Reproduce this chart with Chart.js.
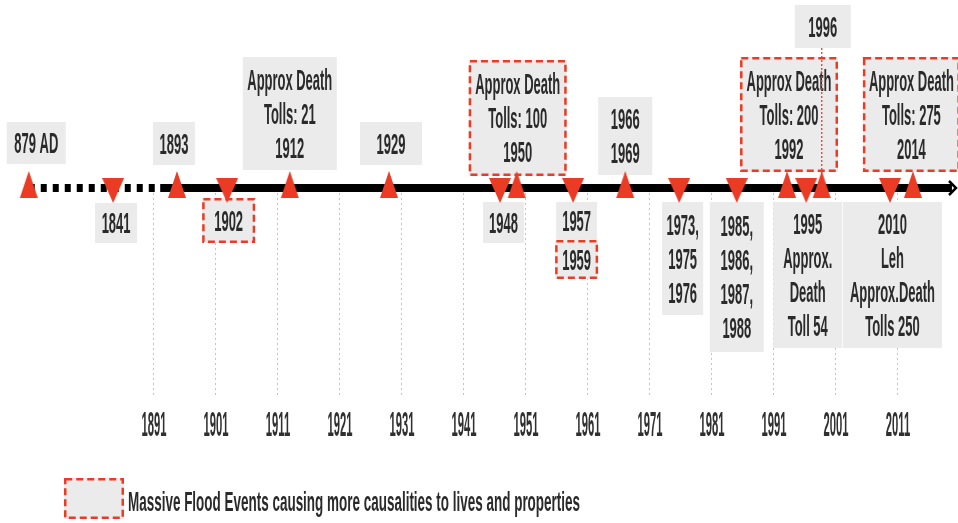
<!DOCTYPE html>
<html><head><meta charset="utf-8">
<script src="https://cdn.jsdelivr.net/npm/chart.js@4/dist/chart.umd.min.js"></script>
<style>html,body{margin:0;padding:0;background:#fff;}canvas{display:block;}</style>
</head><body>
<canvas id="c" width="958" height="523"></canvas>
<script>
// ---------- data ----------
const tickYears = [1891,1901,1911,1921,1931,1941,1951,1961,1971,1981,1991,2001,2011];
// marker positions read on the drawn time axis (the part left of 1891 is not to scale)
const markerPos  = [1870.8,1884.4,1894.7,1902.8,1912.9,1928.9,1946.8,1949.5,1958.6,1967.0,1975.7,1985.0,1993.1,1996.2,1998.7,2009.7,2013.4];
const markerSide = ['up','down','up','down','up','up','down','up','down','up','down','down','up','down','up','down','up'];
const labelLines = [
  ['879 AD'], ['1841'], ['1893'], ['1902'],
  ['Approx Death','Tolls: 21','1912'], ['1929'], ['1948'],
  ['Approx Death','Tolls: 100','1950'], ['1957'], ['1966','1969'],
  ['1973,','1975','1976'], ['1985,','1986,','1987,','1988'],
  ['Approx Death','Tolls: 200','1992'], ['1995','Approx.','Death','Toll 54'], ['1996'],
  ['2010','Leh','Approx.Death','Tolls 250'], ['Approx Death','Tolls: 275','2014']
];
const massiveFlood = [false,false,false,true,false,false,false,true,false,false,false,false,true,false,false,false,true];
const extraMarker  = [8];          // 1959 shares the 1957 marker
const extraLines   = [['1959']];
const extraMassive = [true];
const axisLine = [1870.8, 1892.0, 2019.7];   // start, end of dotted stretch, arrow end
const legendText = 'Massive Flood Events causing more causalities to lives and properties';

// ---------- layout / style (pixels) ----------
const boxLayout = [ // [dx from marker, width, top, bottom]
  [-22,59,122,164],[-18,42,203,243],[-24,42,122,165],[-25,53,198,243],[-47,94,57,170],
  [-29,62,122,165],[-17,41,202,243],[-48,98,60,176],[-17,41,202,240],[-27,54,97,175],
  [-17,41,202,315],[-27,54,202,352],[-47,98,57,172],[-33,69,202,348],[-27,56,5,48],
  [-47,99,202,348],[-50,97,57,172]
];
const extraLayout = [[-18,43,240,279]];
const connectorIdx = 14;
const RED = '#ec3b24', GRAY = '#ebebeb', TXT = '#2a2a2a';
const FAMILY = '"Liberation Sans Narrow","Liberation Sans",Arial,sans-serif';
const X_MIN = 1891 - 154/6.2, X_MAX = X_MIN + 958/6.2;

function makeTri(up){
  const c = document.createElement('canvas');
  const g = c.getContext('2d');
  if (up){ c.width=20; c.height=34; g.beginPath(); g.moveTo(10,0); g.lineTo(19,27); g.lineTo(1,27); }
  else { c.width=22; c.height=30; g.beginPath(); g.moveTo(0,5); g.lineTo(22,5); g.lineTo(11,30); }
  g.closePath(); g.fillStyle = RED; g.fill();
  return c;
}
function makeArrow(){
  const c = document.createElement('canvas'); c.width=12; c.height=20;
  const g = c.getContext('2d');
  g.strokeStyle='#000'; g.lineWidth=2.5; g.beginPath(); g.moveTo(3,3); g.lineTo(10,10); g.lineTo(3,17); g.stroke();
  return c;
}
const upTri = makeTri(true), downTri = makeTri(false), arrowImg = makeArrow();

function ctext(ctx, t, x, y, sx){ ctx.save(); ctx.translate(x,y); ctx.scale(sx,1); ctx.fillText(t,0,0); ctx.restore(); }
function drawBox(ctx, x, y, w, h, lines, massive, sx){
  ctx.save();
  ctx.fillStyle = GRAY; ctx.fillRect(x,y,w,h);
  if (massive){ ctx.strokeStyle=RED; ctx.lineWidth=2.5; ctx.setLineDash([7,4]); ctx.strokeRect(x+1.25,y+1.25,w-2.5,h-2.5); ctx.setLineDash([]); }
  ctx.fillStyle = TXT; ctx.textAlign='center'; ctx.textBaseline='middle';
  ctx.font = 'bold 30px ' + FAMILY;
  const lh = 34, n = lines.length, cy = y + h/2 + 2;
  lines.forEach((t,i)=> ctext(ctx, t, x + w/2, cy + (i-(n-1)/2)*lh, sx));
  ctx.restore();
}

const timelinePlugin = {
  id: 'timeline',
  beforeDatasetsDraw(chart){
    const ctx = chart.ctx, xs = chart.scales.x;
    ctx.save();
    ctx.font = 'bold 30px ' + FAMILY;
    const sx = 85 / ctx.measureText('Approx Death').width;
    labelLines.forEach((lines,i)=>{
      const px = xs.getPixelForValue(markerPos[i]); const L = boxLayout[i];
      drawBox(ctx, px+L[0], L[2], L[1], L[3]-L[2], lines, massiveFlood[i], sx);
    });
    extraLines.forEach((lines,k)=>{
      const px = xs.getPixelForValue(markerPos[extraMarker[k]]); const L = extraLayout[k];
      drawBox(ctx, px+L[0], L[2], L[1], L[3]-L[2], lines, extraMassive[k], sx);
    });
    // leader line for 1996
    const cx = xs.getPixelForValue(markerPos[connectorIdx]);
    ctx.strokeStyle = RED; ctx.lineWidth = 1.3; ctx.setLineDash([2,2]);
    ctx.beginPath(); ctx.moveTo(cx, boxLayout[connectorIdx][3]); ctx.lineTo(cx, chart.chartArea.top - 6); ctx.stroke();
    ctx.restore();
  },
  afterDraw(chart){
    const ctx = chart.ctx, xs = chart.scales.x;
    ctx.save();
    // tick labels
    ctx.font = 'bold 35px ' + FAMILY;
    ctx.fillStyle = '#303030'; ctx.textAlign='center'; ctx.textBaseline='middle';
    const tsx = 25 / ctx.measureText('1891').width;
    xs.ticks.forEach(t => ctext(ctx, String(t.value), xs.getPixelForValue(t.value), 426, tsx));
    // legend
    ctx.fillStyle = GRAY; ctx.fillRect(64,478,60,41);
    ctx.strokeStyle = RED; ctx.lineWidth = 2.5; ctx.setLineDash([7,4]); ctx.strokeRect(65.25,479.25,57.5,38.5); ctx.setLineDash([]);
    ctx.font = 'bold 28px ' + FAMILY; ctx.fillStyle = TXT; ctx.textAlign='left';
    const lsx = 452 / ctx.measureText(legendText).width;
    ctext(ctx, legendText, 128, 503, lsx);
    ctx.restore();
  }
};

new Chart(document.getElementById('c'), {
  data: {
    datasets: [
      {
        type: 'scatter', label: 'Flood events', order: 1, clip: false,
        data: markerPos.map(v => ({x: v, y: 0})),
        pointStyle: ctx => markerSide[ctx.dataIndex] === 'up' ? upTri : downTri,
        pointRadius: 10, pointHoverRadius: 10
      },
      {
        type: 'line', label: 'Timeline', order: 2, clip: false,
        data: axisLine.map(v => ({x: v, y: 0})),
        borderColor: '#000', borderWidth: 8, borderCapStyle: 'butt',
        segment: { borderDash: c => c.p0DataIndex === 0 ? [6,6] : [] },
        pointStyle: arrowImg,
        pointRadius: c => c.dataIndex === axisLine.length - 1 ? 5 : 0,
        pointHoverRadius: 0
      }
    ]
  },
  options: {
    responsive: false, animation: false, devicePixelRatio: 1,
    layout: { autoPadding: false, padding: { top: 188, bottom: 128, left: 0, right: 0 } },
    plugins: { legend: { display: false }, tooltip: { enabled: false } },
    events: [],
    scales: {
      x: {
        type: 'linear', position: 'bottom', min: X_MIN, max: X_MAX,
        afterBuildTicks: axis => { axis.ticks = tickYears.map(v => ({ value: v })); },
        ticks: { display: false },
        grid: { color: '#c4c4c4', lineWidth: 1, drawTicks: false },
        border: { display: false, dash: [2,3] }
      },
      y: { type: 'linear', min: -1, max: 0, display: false }
    }
  },
  plugins: [timelinePlugin]
});
</script>
</body></html>
